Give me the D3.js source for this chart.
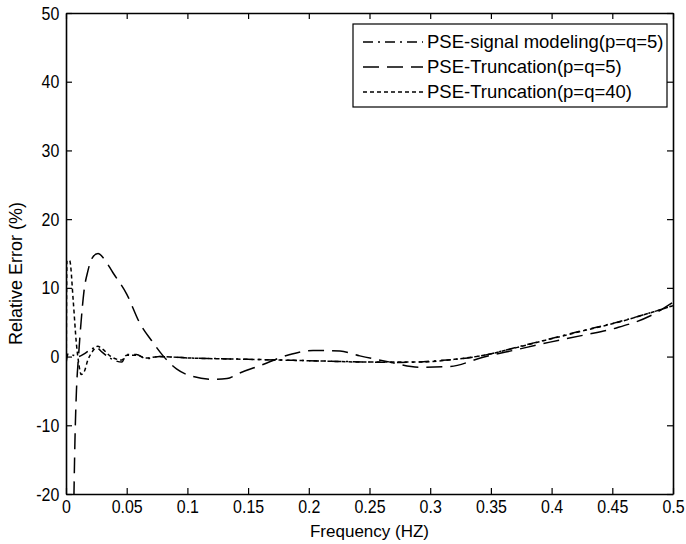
<!DOCTYPE html>
<html>
<head>
<meta charset="utf-8">
<script src="https://cdn.jsdelivr.net/npm/d3@7"></script>
<style>
  html, body { margin: 0; padding: 0; background: #fff; }
  svg { display: block; }
  text { font-family: "Liberation Sans", Arial, sans-serif; fill: #000; }
</style>
</head>
<body>
<svg id="chart" width="686" height="544"></svg>
<script>
// ---------- data ----------
const xTickValues = [0, 0.05, 0.1, 0.15, 0.2, 0.25, 0.3, 0.35, 0.4, 0.45, 0.5];
const xTickLabels = ["0", "0.05", "0.1", "0.15", "0.2", "0.25", "0.3", "0.35", "0.4", "0.45", "0.5"];
const yTickValues = [-20, -10, 0, 10, 20, 30, 40, 50];
const yTickLabels = ["-20", "-10", "0", "10", "20", "30", "40", "50"];

const seriesNames = ["PSE-signal modeling(p=q=5)", "PSE-Truncation(p=q=5)", "PSE-Truncation(p=q=40)"];

// PSE-signal modeling (p=q=5)
const sigFreq = [0, 0.002, 0.006, 0.01, 0.015, 0.02, 0.025, 0.03, 0.037, 0.046, 0.05, 0.058, 0.066, 0.077, 0.1, 0.125, 0.15, 0.175, 0.2, 0.225, 0.25, 0.275, 0.29, 0.305, 0.32, 0.343, 0.371, 0.399, 0.426, 0.454, 0.48, 0.5];
const sigVals = [-1, 0.5, 0.2, 0, 0.4, 1.0, 1.3, 0.6, -0.3, -0.8, 0.3, 0.3, -0.3, 0, -0.2, -0.3, -0.4, -0.5, -0.6, -0.7, -0.8, -0.85, -0.8, -0.6, -0.4, 0.15, 1.35, 2.6, 3.8, 5.0, 6.3, 7.4];

// PSE-Truncation (p=q=5)
const trFreq = [0.0062, 0.0074, 0.0086, 0.0103, 0.0124, 0.0148, 0.0181, 0.0214, 0.0264, 0.031, 0.0387, 0.05, 0.061, 0.0706, 0.08, 0.091, 0.1046, 0.121, 0.1326, 0.143, 0.16, 0.1845, 0.2035, 0.2257, 0.242, 0.264, 0.2916, 0.316, 0.3435, 0.371, 0.3987, 0.426, 0.454, 0.481, 0.5];
const trVals = [-24, -12, -5, 0, 5, 9.5, 12.5, 14.3, 15, 14.3, 12.2, 9.1, 4.8, 2.3, 0.1, -1.8, -2.9, -3.3, -3.2, -2.4, -1.3, 0.3, 0.9, 0.8, 0.1, -0.7, -1.55, -1.45, -0.1, 1.0, 2.1, 3.1, 4.2, 5.9, 7.9];

// PSE-Truncation (p=q=40)
const tr40Freq = [0, 0.0008, 0.003, 0.006, 0.0085, 0.0105, 0.0125, 0.015, 0.018, 0.022, 0.026, 0.03, 0.037, 0.046, 0.05, 0.058, 0.066, 0.077, 0.1, 0.15, 0.2, 0.25, 0.29, 0.32, 0.343, 0.371, 0.399, 0.426, 0.454, 0.48, 0.5];
const tr40Vals = [-10, 14, 14, 8, 2, -1, -2.6, -2.2, -0.5, 0.8, 1.5, 1.1, 0, -0.5, 0.2, 0.2, -0.2, 0, -0.2, -0.4, -0.6, -0.8, -0.8, -0.4, 0.15, 1.3, 2.55, 3.75, 4.95, 6.3, 7.4];

// ---------- layout ----------
const L = 66, R = 673, T = 13, B = 494;
const svg = d3.select("#chart");

const x = d3.scaleLinear().domain([0, 0.5]).range([L, R]);
const y = d3.scaleLinear().domain([-20, 50]).range([B, T]);

svg.append("defs").append("clipPath").attr("id", "plotclip")
  .append("rect").attr("x", L).attr("y", T).attr("width", R - L).attr("height", B - T);

const series = [
  { f: sigFreq, v: sigVals, dash: "10,5,2,5" },
  { f: trFreq, v: trVals, dash: "16,8" },
  { f: tr40Freq, v: tr40Vals, dash: "4,3" }
];

const line = d3.line().x(d => x(d[0])).y(d => y(d[1])).curve(d3.curveMonotoneX);

const plot = svg.append("g").attr("clip-path", "url(#plotclip)");
series.forEach(s => {
  plot.append("path")
    .datum(s.f.map((f, i) => [f, s.v[i]]))
    .attr("d", line)
    .attr("fill", "none")
    .attr("stroke", "#000")
    .attr("stroke-width", 1.5)
    .attr("stroke-dasharray", s.dash);
});

// ---------- axes ----------
const tickLen = 6;
const xb = svg.append("g").attr("transform", `translate(0,${B})`)
  .call(d3.axisBottom(x).tickValues(xTickValues).tickFormat((d, i) => xTickLabels[i])
    .tickSizeInner(-tickLen).tickSizeOuter(0).tickPadding(6));
const xt = svg.append("g").attr("transform", `translate(0,${T})`)
  .call(d3.axisTop(x).tickValues(xTickValues).tickFormat("")
    .tickSizeInner(-tickLen).tickSizeOuter(0));
const yl = svg.append("g").attr("transform", `translate(${L},0)`)
  .call(d3.axisLeft(y).tickValues(yTickValues).tickFormat((d, i) => yTickLabels[i])
    .tickSizeInner(-tickLen).tickSizeOuter(0).tickPadding(8));
const yr = svg.append("g").attr("transform", `translate(${R},0)`)
  .call(d3.axisRight(y).tickValues(yTickValues).tickFormat("")
    .tickSizeInner(-tickLen).tickSizeOuter(0));

[xb, xt, yl, yr].forEach(g => {
  g.select(".domain").attr("stroke", "#000").attr("stroke-width", 1.6);
  g.selectAll(".tick line").attr("stroke", "#000").attr("stroke-width", 1.2);
});

xb.selectAll(".tick text")
  .attr("font-size", 19).attr("font-family", "Liberation Sans, Arial, sans-serif")
  .attr("transform", "scale(0.84,1)");
yl.selectAll(".tick text")
  .attr("font-size", 19).attr("font-family", "Liberation Sans, Arial, sans-serif")
  .attr("transform", "scale(0.84,1)");

// axis titles
svg.append("text")
  .attr("x", (L + R) / 2).attr("y", 537)
  .attr("text-anchor", "middle").attr("font-size", 17)
  .text("Frequency (HZ)");
svg.append("text")
  .attr("transform", `translate(22,${(T + B) / 2 + 20}) rotate(-90)`)
  .attr("text-anchor", "middle").attr("font-size", 18)
  .text("Relative Error (%)");

// ---------- legend ----------
const lg = svg.append("g");
lg.append("rect")
  .attr("x", 353).attr("y", 24).attr("width", 314).attr("height", 83)
  .attr("fill", "#fff").attr("stroke", "#000").attr("stroke-width", 1.2);
seriesNames.forEach((name, i) => {
  const cy = 42 + i * 25;
  lg.append("line")
    .attr("x1", 363).attr("x2", 423).attr("y1", cy).attr("y2", cy)
    .attr("stroke", "#000").attr("stroke-width", 1.5)
    .attr("stroke-dasharray", series[i].dash);
  lg.append("text")
    .attr("x", 427).attr("y", cy).attr("dy", "0.35em")
    .attr("font-size", 18.5)
    .text(name);
});
</script>
</body>
</html>
